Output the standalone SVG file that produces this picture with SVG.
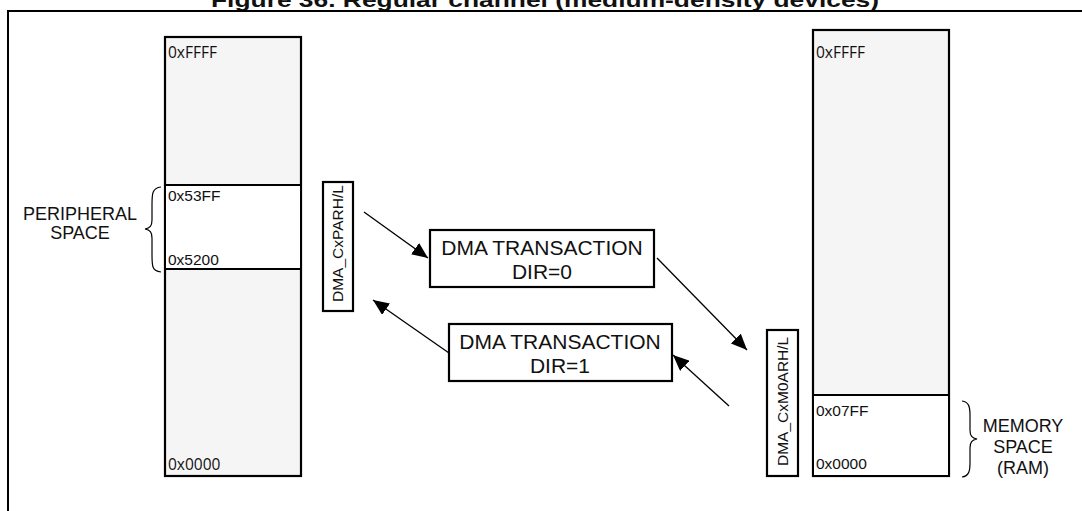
<svg xmlns="http://www.w3.org/2000/svg" width="1082" height="511" viewBox="0 0 1082 511">
<defs>
<style>
.t{font-family:"Liberation Sans",Arial,sans-serif;fill:#111}
.hex{font-family:"Open Sans","Liberation Sans",sans-serif;font-size:15.5px;fill:#111}
.hx{font-family:"Liberation Sans",Arial,sans-serif;font-size:15.5px;fill:#111}
.lbl{font-size:18px}
.dma{font-size:21px}
.vl{font-size:15.5px}
.box{fill:#fff;stroke:#000;stroke-width:2.2}
.mem{fill:#f5f5f5;stroke:#000;stroke-width:2.2}
.con{stroke:#000;stroke-width:1.3;fill:none;marker-end:url(#ah)}
.br{stroke:#000;stroke-width:1.2;fill:none}
</style>
<marker id="ah" markerUnits="userSpaceOnUse" markerWidth="18" markerHeight="14" refX="16" refY="7" orient="auto">
<path d="M0,0 L16,7 L0,14 z" fill="#000"/>
</marker>
</defs>
<rect width="1082" height="511" fill="#fff"/>
<text class="t" x="545" y="7" text-anchor="middle" font-weight="bold" font-size="21" textLength="668" lengthAdjust="spacingAndGlyphs">Figure 36. Regular channel (medium-density devices)</text>
<path d="M8,511 V11 H1082" fill="none" stroke="#000" stroke-width="2"/>

<g id="peripheral-memory">
<rect class="mem" x="165" y="37" width="136" height="439"/>
<rect x="166" y="185" width="134" height="84" fill="#fff"/>
<line x1="165" y1="185" x2="301" y2="185" stroke="#000" stroke-width="2"/>
<line x1="165" y1="269" x2="301" y2="269" stroke="#000" stroke-width="2"/>
<text class="hex" x="168" y="58">0xFFFF</text>
<text class="hx" x="168" y="201">0x53FF</text>
<text class="hx" x="168" y="265">0x5200</text>
<text class="hex" x="168" y="470">0x0000</text>
</g>

<g id="peripheral-space">
<path class="br" d="M161,187 C152,188 152,194 152,205 L152,220 C152,226 150,228 145,229 C150,230 152,232 152,238 L152,255 C152,266 152,271 161,272"/>
<text class="t lbl" x="80" y="220" text-anchor="middle">PERIPHERAL</text>
<text class="t lbl" x="80" y="239" text-anchor="middle">SPACE</text>
</g>

<g id="ram-memory">
<rect class="mem" x="813" y="30" width="136" height="446"/>
<rect x="814" y="395" width="134" height="80" fill="#fff"/>
<line x1="813" y1="395" x2="949" y2="395" stroke="#000" stroke-width="2"/>
<text class="hex" x="816" y="58">0xFFFF</text>
<text class="hx" x="816" y="416">0x07FF</text>
<text class="hx" x="816" y="469">0x0000</text>
</g>

<g id="memory-space">
<path class="br" d="M962,401 C969,402 970,407 970,415 L970,430 C970,436 972,438 977,439 C972,440 970,442 970,448 L970,463 C970,471 969,476 962,477"/>
<text class="t lbl" x="1023" y="432" text-anchor="middle">MEMORY</text>
<text class="t lbl" x="1023" y="453" text-anchor="middle">SPACE</text>
<text class="t lbl" x="1023" y="474" text-anchor="middle">(RAM)</text>
</g>

<g id="parh">
<rect class="box" x="323" y="182" width="30" height="129"/>
<text class="t vl" transform="translate(343,302) rotate(-90)">DMA_CxPARH/L</text>
</g>

<g id="m0ar">
<rect class="box" x="767" y="330" width="31" height="146"/>
<text class="t vl" transform="translate(788,466) rotate(-90)">DMA_CxM0ARH/L</text>
</g>

<g id="dir0">
<rect class="box" x="430" y="230" width="224" height="57"/>
<text class="t dma" x="542" y="255" text-anchor="middle">DMA TRANSACTION</text>
<text class="t dma" x="542" y="279" text-anchor="middle">DIR=0</text>
</g>

<g id="dir1">
<rect class="box" x="449" y="324" width="223" height="57"/>
<text class="t dma" x="560" y="349" text-anchor="middle">DMA TRANSACTION</text>
<text class="t dma" x="560" y="373" text-anchor="middle">DIR=1</text>
</g>

<g id="connectors">
<line class="con" x1="364" y1="212" x2="428" y2="258"/>
<line class="con" x1="657" y1="258" x2="747" y2="350"/>
<line class="con" x1="449" y1="353" x2="373" y2="300"/>
<line class="con" x1="729" y1="406" x2="673" y2="355"/>
</g>
</svg>
